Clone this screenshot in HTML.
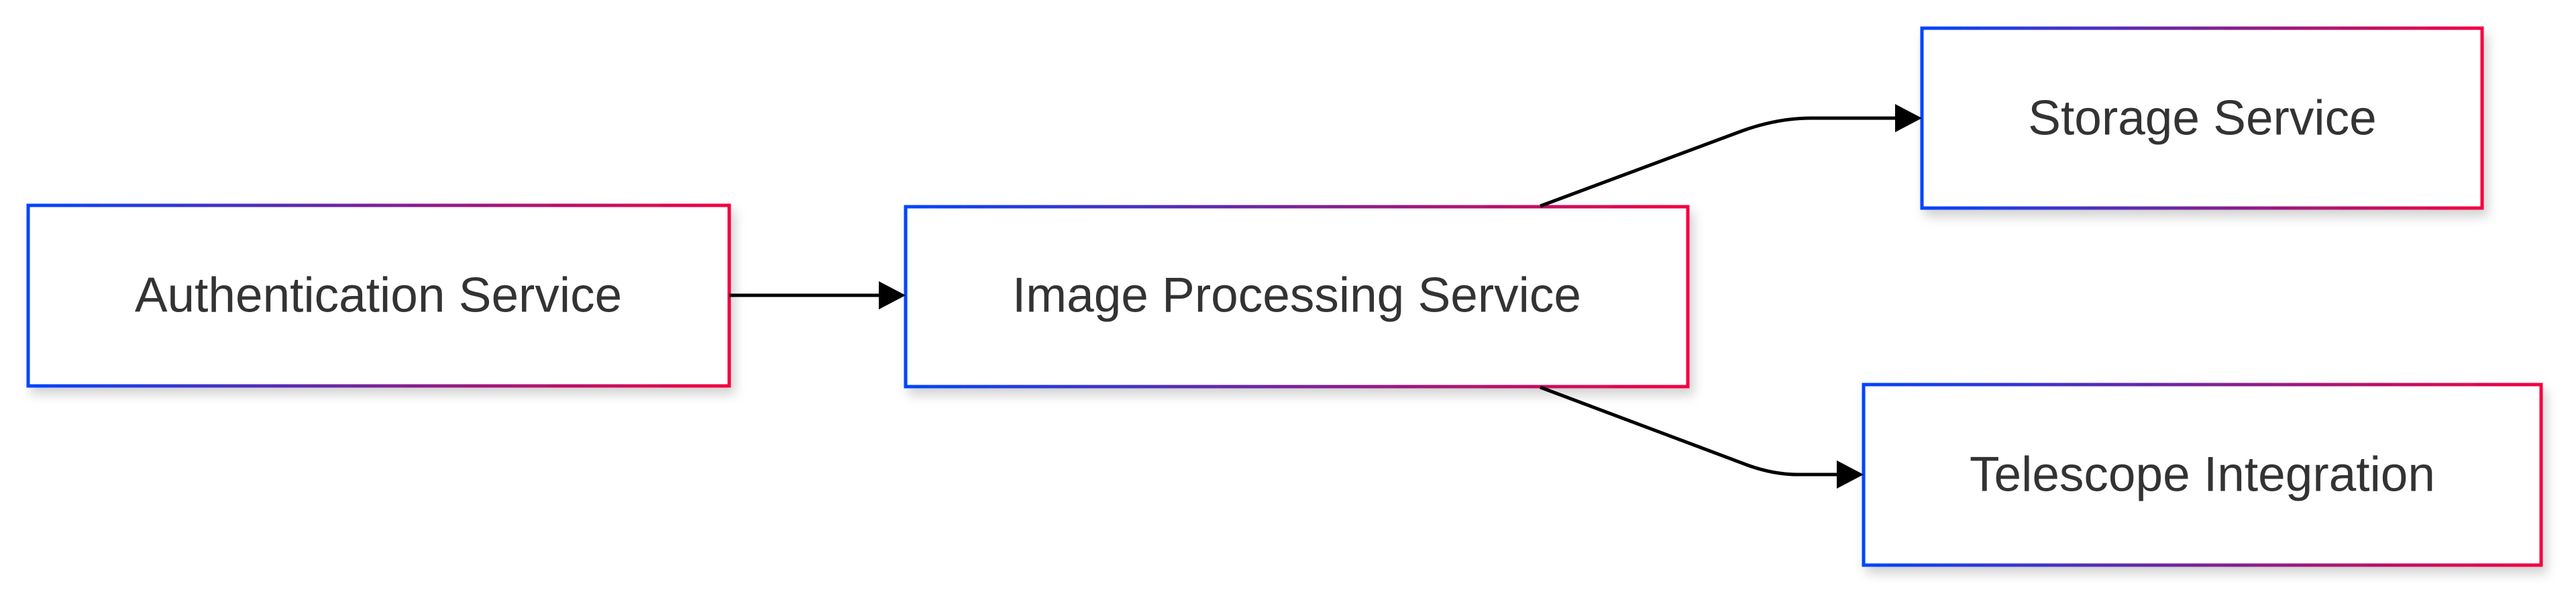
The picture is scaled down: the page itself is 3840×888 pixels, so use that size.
<!DOCTYPE html>
<html><head><meta charset="utf-8"><style>
html,body{margin:0;padding:0;background:#fff;}
body{width:3840px;height:883px;overflow:hidden;}
text{font-family:"Liberation Sans",Arial,sans-serif;font-size:73px;fill:#333;}
</style></head><body>
<svg width="3840" height="883" viewBox="0 0 3840 883" xmlns="http://www.w3.org/2000/svg">
<defs>
<linearGradient id="g" x1="0" y1="0" x2="1" y2="0">
<stop offset="0" stop-color="#0044ff"/><stop offset="0.5" stop-color="#7a2297"/><stop offset="1" stop-color="#f5003f"/>
</linearGradient>
<filter id="sh" x="-10%" y="-20%" width="120%" height="150%">
<feDropShadow dx="6" dy="10" stdDeviation="8" flood-color="#000" flood-opacity="0.18"/>
</filter>
</defs>
<g fill="#fff" stroke="url(#g)" stroke-width="5" filter="url(#sh)">
<rect x="42" y="306" width="1045" height="269"/>
<rect x="1350" y="308" width="1166" height="268"/>
<rect x="2865" y="42" width="835" height="268"/>
<rect x="2778" y="573" width="1010" height="269"/>
</g>
<g stroke="#000" stroke-width="5" fill="none">
<path d="M1087 440 L1312 440"/>
<path d="M2296 307 L2597 195 Q2650 176 2700 176 L2828 176"/>
<path d="M2296 577 L2597 690 Q2640 707 2680 707 L2741 707"/>
</g>
<g fill="#000">
<polygon points="1310,419 1350,440 1310,461"/>
<polygon points="2825,155 2865,176 2825,197"/>
<polygon points="2738,686 2778,707 2738,728"/>
</g>
<text x="564" y="440" text-anchor="middle" dominant-baseline="central">Authentication Service</text>
<text x="1933" y="440" text-anchor="middle" dominant-baseline="central">Image Processing Service</text>
<text x="3283" y="176" text-anchor="middle" dominant-baseline="central">Storage Service</text>
<text x="3283" y="707" text-anchor="middle" dominant-baseline="central">Telescope Integration</text>
</svg>
</body></html>
